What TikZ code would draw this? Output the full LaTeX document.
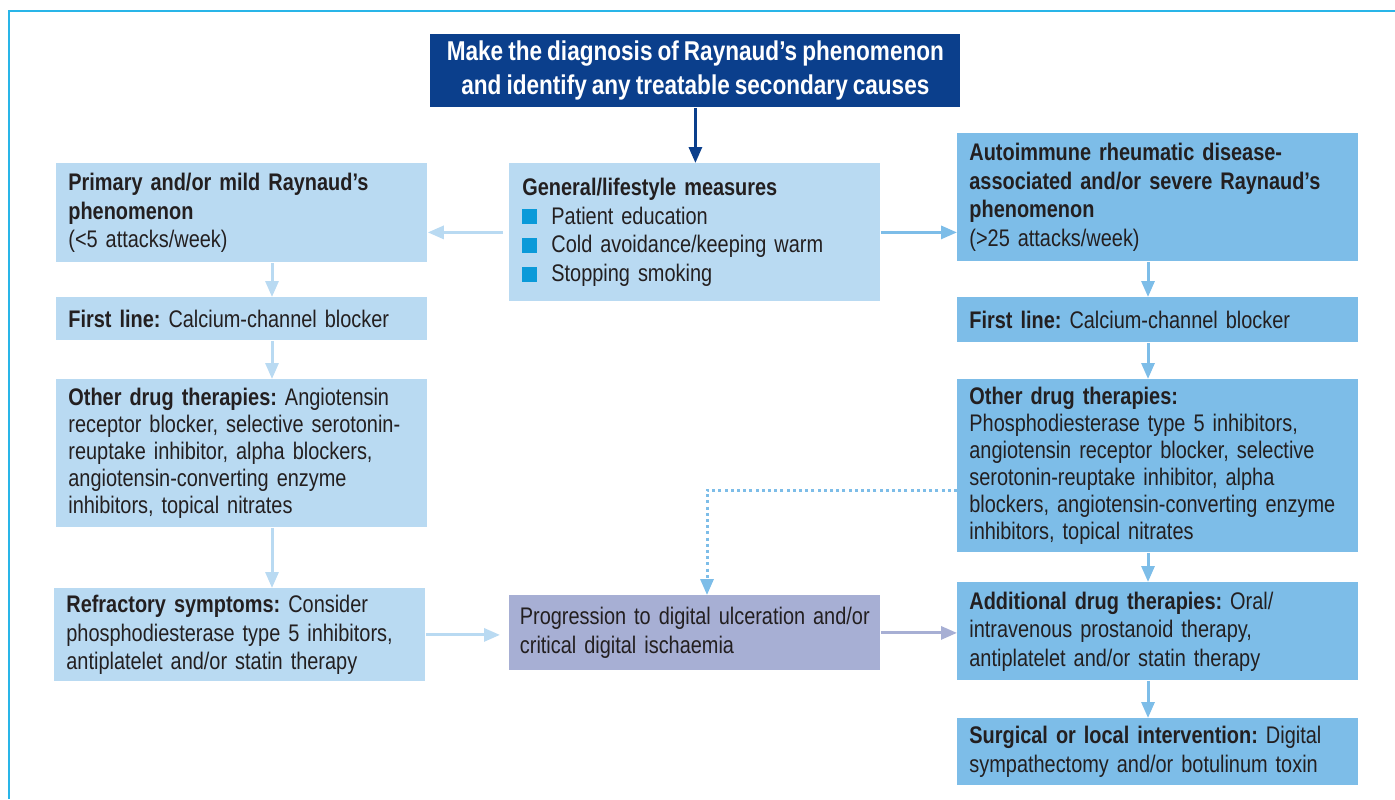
\documentclass[tikz,border=0pt]{standalone}
\usepackage{fontspec}
\setmainfont{Liberation Sans}[FakeStretch=0.83, WordSpace=0.8]
\usetikzlibrary{arrows.meta, positioning}
\definecolor{rdark}{HTML}{0B3F8C}
\definecolor{rlight}{HTML}{B9DAF2}
\definecolor{rmid}{HTML}{7DBDE8}
\definecolor{rlav}{HTML}{A7AFD4}
\definecolor{rbullet}{HTML}{0A9AD9}
\definecolor{rframe}{HTML}{29B5E8}
\definecolor{rtext}{HTML}{231F20}
\newcommand{\sqbullet}{\textcolor{rbullet}{\rule{7.5pt}{7.5pt}}\hspace{7pt}}
\tikzset{
  box/.style={anchor=north west, inner xsep=6pt, inner ysep=0pt, align=left,
              text=rtext, font=\fontsize{12}{14.3}\selectfont\frenchspacing},
  lbox/.style={box, fill=rlight, text width=173.5pt},
  rbox/.style={box, fill=rmid, text width=188.5pt},
  pbox/.style={box, fill=rlav, text width=175pt, inner xsep=5.25pt},
  tight/.style={font=\fontsize{12}{13.5}\selectfont\frenchspacing},
  topbox/.style={fill=rdark, text=white, align=center, anchor=north west,
                 minimum width=265pt, minimum height=36.5pt, inner sep=0pt,
                 font=\fontsize{13.6}{17}\selectfont\bfseries},
  arr/.style={-{Triangle[length=8pt, width=6.5pt]}, line width=1.5pt},
  larr/.style={arr, rlight},
  rarr/.style={arr, rmid},
  parr/.style={arr, rlav},
  darr/.style={arr, rdark},
  dotarr/.style={-{Triangle[length=8pt, width=6.5pt]}, line width=1.5pt, rmid,
                 dash pattern=on 1.5pt off 1.6pt},
  frame/.style={rframe, line width=1pt},
}

\begin{document}
\begin{tikzpicture}[x=0.5pt, y=-0.5pt]
  \useasboundingbox (0,0) rectangle (1395,799);
  \draw[frame] (1395,11) -- (9,11) -- (9,799);

  \node[topbox] (diag) at (430,34) {Make the diagnosis of Raynaud’s phenomenon\\and identify any treatable secondary causes};

  \node[lbox, text width=172.5pt, inner xsep=6.5pt, minimum height=69pt] (gen) at (509,163)
    {\textbf{General/lifestyle measures}\\\sqbullet Patient education\\\sqbullet Cold avoidance/keeping warm\\\sqbullet Stopping smoking};

  % left column
  \node[lbox, minimum height=49.5pt] (prim) at (56,163)
    {\textbf{Primary and/or mild Raynaud’s}\\\textbf{phenomenon}\\(<5 attacks/week)};
  \node[lbox, minimum height=21.5pt] (lfirst) at (56,297)
    {\textbf{First line:} Calcium-channel blocker};
  \node[lbox, tight, minimum height=74pt] (lother) at (56,379)
    {\textbf{Other drug therapies:} Angiotensin\\receptor blocker, selective serotonin-\\reuptake inhibitor, alpha blockers,\\angiotensin-converting enzyme\\inhibitors, topical nitrates};
  \node[lbox, minimum height=46.5pt] (lrefr) at (54,588)
    {\textbf{Refractory symptoms:} Consider\\phosphodiesterase type 5 inhibitors,\\antiplatelet and/or statin therapy};

  \node[pbox, minimum height=37.5pt] (prog) at (509,595)
    {Progression to digital ulceration and/or\\critical digital ischaemia};

  % right column
  \node[rbox, minimum height=64pt] (rprim) at (957,133)
    {\textbf{Autoimmune rheumatic disease-}\\\textbf{associated and/or severe Raynaud’s}\\\textbf{phenomenon}\\(>25 attacks/week)};
  \node[rbox, minimum height=22.5pt] (rfirst) at (957,297)
    {\textbf{First line:} Calcium-channel blocker};
  \node[rbox, tight, minimum height=86.5pt] (rother) at (957,379)
    {\textbf{Other drug therapies:}\\Phosphodiesterase type 5 inhibitors,\\angiotensin receptor blocker, selective\\serotonin-reuptake inhibitor, alpha\\blockers, angiotensin-converting enzyme\\inhibitors, topical nitrates};
  \node[rbox, minimum height=49pt] (radd) at (957,582)
    {\textbf{Additional drug therapies:} Oral/\\intravenous prostanoid therapy,\\antiplatelet and/or statin therapy};
  \node[rbox, minimum height=33.5pt] (rsurg) at (957,718)
    {\textbf{Surgical or local intervention:} Digital\\sympathectomy and/or botulinum toxin};

  \coordinate (lx) at (272,0);
  \coordinate (rx) at (1148,0);
  \coordinate (bend) at (707,490);

  \draw[darr] (diag.south) -- (gen.north -| diag.south);
  \draw[larr, shorten <=3pt] (gen.west) -- (prim.east |- gen.west);
  \draw[rarr] (gen.east) -- (rprim.west |- gen.east);

  \draw[larr] (prim.south -| lx) -- (lfirst.north -| lx);
  \draw[larr] (lfirst.south -| lx) -- (lother.north -| lx);
  \draw[larr] (lother.south -| lx) -- (lrefr.north -| lx);
  \draw[larr, shorten >=4.5pt] (lrefr.east) -- (prog.west |- lrefr.east);

  \draw[rarr] (rprim.south -| rx) -- (rfirst.north -| rx);
  \draw[rarr] (rfirst.south -| rx) -- (rother.north -| rx);
  \draw[rarr] (rother.south -| rx) -- (radd.north -| rx);
  \draw[rarr] (radd.south -| rx) -- (rsurg.north -| rx);

  \draw[parr] (prog.east) -- (radd.west |- prog.east);
  \draw[dotarr] (rother.west |- bend) -- (bend) -- (prog.north -| bend);
\end{tikzpicture}
\end{document}
